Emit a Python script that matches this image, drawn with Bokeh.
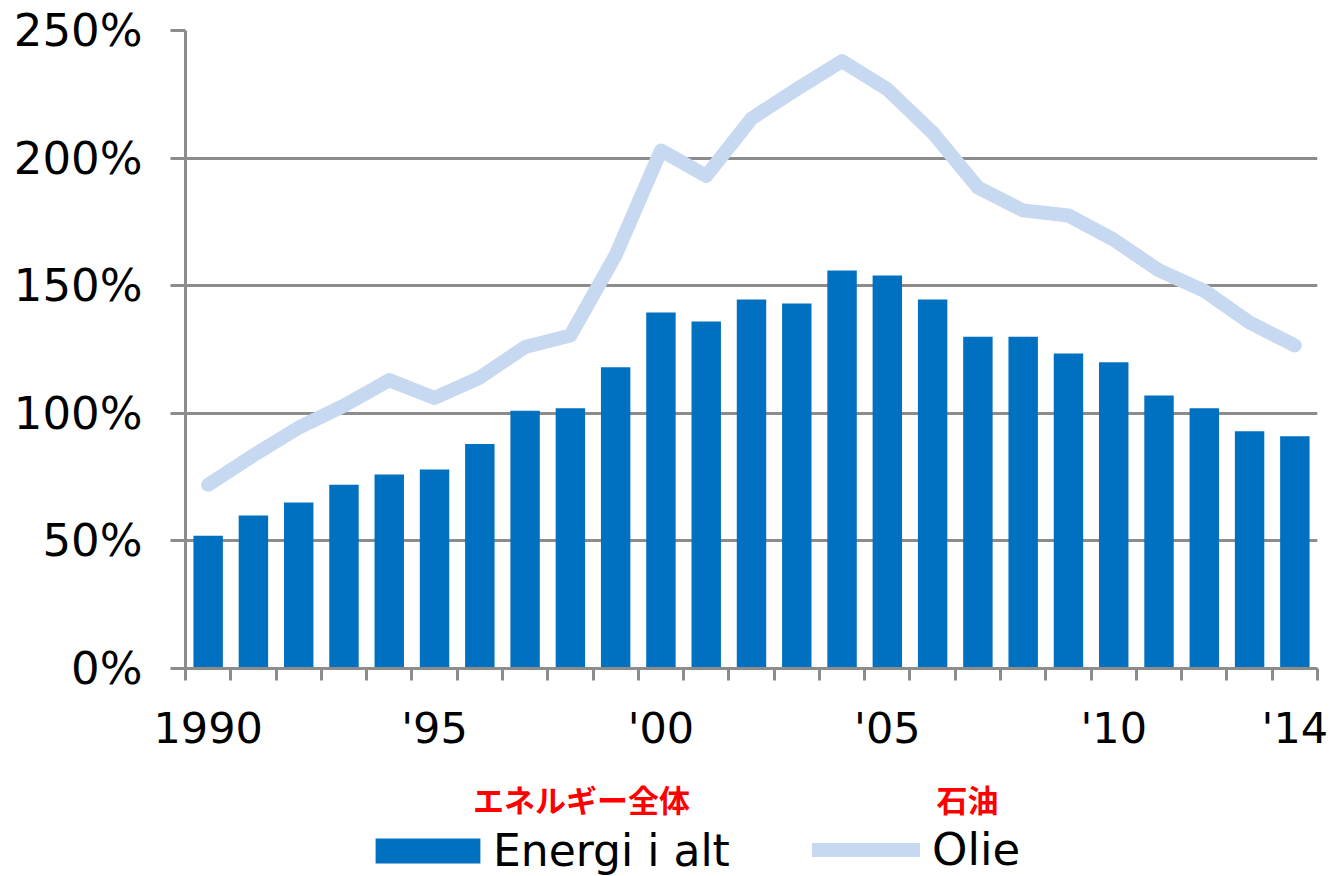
from bokeh.plotting import figure
from bokeh.layouts import column
from bokeh.models import (ColumnDataSource, Range1d, FixedTicker, NumeralTickFormatter,
                          Legend, LegendItem, Label)
from bokeh.embed import file_html
from bokeh.resources import INLINE

# ---- data ----
years = [1990, 1991, 1992, 1993, 1994, 1995, 1996, 1997, 1998, 1999,
         2000, 2001, 2002, 2003, 2004, 2005, 2006, 2007, 2008, 2009,
         2010, 2011, 2012, 2013, 2014]
energi_i_alt = [52, 60, 65, 72, 76, 78, 88, 101, 102, 118,
                139.5, 136, 144.6, 143, 156, 154, 144.6, 130, 130, 123.4,
                120, 107, 102, 93, 91]
olie = [72, 83.5, 94.4, 103, 113, 106, 114, 126, 130.5, 162,
        203, 193, 215.5, 227, 238, 227, 210, 188.5, 179.5, 177.5,
        168, 156, 148, 135.6, 126.6]
tick_years = [1990, 1995, 2000, 2005, 2010, 2014]
tick_labels = ["1990", "'95", "'00", "'05", "'10", "'14"]
y_ticks = [0, 50, 100, 150, 200, 250]
series_names = ["Energi i alt", "Olie"]
series_names_ja = ["エネルギー全体", "石油"]

FONT = "DejaVu Sans"
GRAY = "#8c8c8c"
BAR = "#0070c0"
LINE = "#c6d9f1"

x0 = years[0]
xs = [y - x0 + 0.5 for y in years]
src = ColumnDataSource(dict(x=xs, bar=[v / 100 for v in energi_i_alt],
                            oil=[v / 100 for v in olie]))

p = figure(width=1339, height=760, output_backend="svg", toolbar_location=None,
           x_range=Range1d(0, len(years)), y_range=Range1d(0, y_ticks[-1] / 100),
           min_border_left=185, min_border_right=22, min_border_top=30,
           min_border_bottom=92)
p.outline_line_color = None
p.background_fill_color = "white"
p.border_fill_color = "white"

bars = p.vbar(x="x", top="bar", width=0.65, source=src, fill_color=BAR, line_color=None)
line = p.line(x="x", y="oil", source=src, line_color=LINE, line_width=14,
              line_join="round", line_cap="round")

# grid
p.xgrid.visible = False
p.ygrid.grid_line_color = GRAY
p.ygrid.grid_line_width = 3
p.ygrid.ticker = FixedTicker(ticks=[v / 100 for v in y_ticks])

# y axis
ya = p.yaxis[0]
ya.ticker = FixedTicker(ticks=[v / 100 for v in y_ticks])
ya.formatter = NumeralTickFormatter(format="0%")
ya.axis_line_color = GRAY
ya.axis_line_width = 3
ya.major_tick_line_color = GRAY
ya.major_tick_line_width = 3
ya.major_tick_out = 15
ya.major_tick_in = 0
ya.minor_tick_line_color = None
ya.major_label_text_font = FONT
ya.major_label_text_font_size = "45px"
ya.major_label_text_color = "black"
ya.major_label_standoff = 28

# x axis: labels at category centres, tick marks (minor) at category boundaries
xa = p.xaxis[0]
xa.ticker = FixedTicker(ticks=[y - x0 + 0.5 for y in tick_years],
                        minor_ticks=list(range(0, len(years) + 1)))
xa.major_label_overrides = {y - x0 + 0.5: lab for y, lab in zip(tick_years, tick_labels)}
xa.axis_line_color = GRAY
xa.axis_line_width = 3
xa.major_tick_line_color = None
xa.major_tick_out = 0
xa.major_tick_in = 0
xa.minor_tick_line_color = GRAY
xa.minor_tick_line_width = 3
xa.minor_tick_out = 12
xa.minor_tick_in = 0
xa.major_label_text_font = FONT
xa.major_label_text_font_size = "43px"
xa.major_label_text_color = "black"
xa.major_label_standoff = 22

# ---- legend strip (second figure; frame aligned with the main one, x in page pixels) ----
p2 = figure(width=1339, height=116, output_backend="svg", toolbar_location=None,
            x_range=Range1d(185, 1317), y_range=Range1d(116, 0),
            min_border_left=185, min_border_right=22, min_border_top=0, min_border_bottom=0)
p2.axis.visible = False
p2.grid.visible = False
p2.outline_line_color = None
p2.background_fill_color = "white"
p2.border_fill_color = "white"

# off-screen stand-ins that carry the legend styles
d_bar = p2.vbar(x=[-500], top=[0], width=0, fill_color=BAR, line_color=None)
d_line = p2.line(x=[-600, -500], y=[50, 50], line_color=LINE, line_width=14,
                 line_cap="round")

leg1 = Legend(items=[LegendItem(label=series_names[0], renderers=[d_bar])],
              location=(177, 0), glyph_width=131, glyph_height=31,
              label_standoff=0, padding=0, margin=0,
              label_text_font=FONT, label_text_font_size="44px", label_text_color="black",
              border_line_alpha=0, background_fill_alpha=0)
leg2 = Legend(items=[LegendItem(label=series_names[1], renderers=[d_line])],
              location=(627, 0), glyph_width=108, glyph_height=31,
              label_standoff=12, padding=0, margin=0,
              label_text_font=FONT, label_text_font_size="45px", label_text_color="black",
              border_line_alpha=0, background_fill_alpha=0)
p2.add_layout(leg1)
p2.add_layout(leg2)

for txt, cx in zip(series_names_ja, [581, 967]):
    p2.add_layout(Label(x=cx, y=38, text=txt,
                        text_align="center", text_baseline="middle",
                        text_font="Noto Sans CJK JP", text_font_style="bold",
                        text_color="#ff0000", text_font_size="31px"))

layout = column(p, p2, spacing=0)
open("out.html", "w").write(file_html(layout, INLINE))
